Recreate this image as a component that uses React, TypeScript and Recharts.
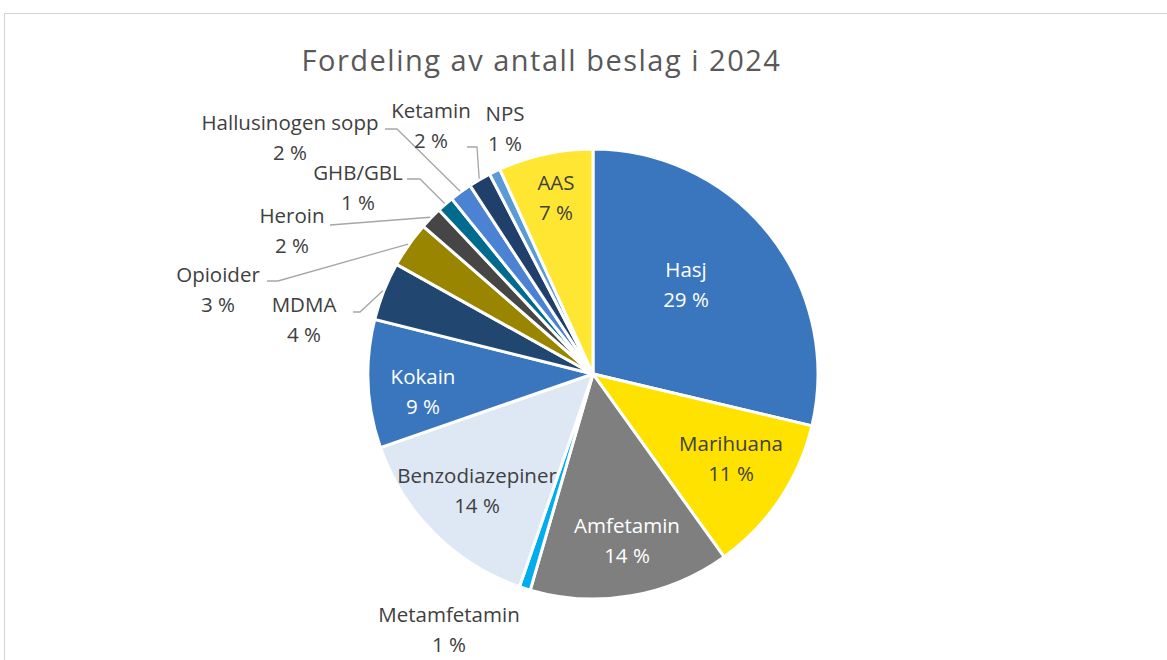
import React from 'react';
import { PieChart, Pie, Cell } from 'recharts';

const categories = [
  'Hasj', 'Marihuana', 'Amfetamin', 'Metamfetamin', 'Benzodiazepiner', 'Kokain', 'MDMA',
  'Opioider', 'Heroin', 'GHB/GBL', 'Hallusinogen sopp', 'Ketamin', 'NPS', 'AAS',
];
const shares = [28.7, 11.4, 14.4, 0.8, 14.4, 9.2, 4.2, 3.3, 1.6, 1.2, 1.6, 1.6, 0.8, 6.8];

const sliceColors = [
  '#3A76BD', '#FFE200', '#7F7F7F', '#00AEEF', '#DEE8F5', '#3A76BD', '#214670',
  '#9A8500', '#464646', '#006B8F', '#4C82D4', '#203F6B', '#5B9BD5', '#FFE633',
];
const labelColors = [
  '#FFFFFF', '#404040', '#FFFFFF', '#404040', '#404040', '#FFFFFF', '#404040',
  '#404040', '#404040', '#404040', '#404040', '#404040', '#404040', '#404040',
];
// label text centre relative to the pie centre (px)
const labelOffsets: [number, number][] = [
  [93, -89], [138, 85], [34, 167], [-144, 256], [-116, 117], [-170, 18], [-289, -54],
  [-375, -84], [-301, -143], [-235, -186], [-303, -236], [-162, -248], [-88, -245], [-37, -176],
];
// leader line: [startX, elbowX, y] relative to the pie centre, or null
const leaders: (null | [number, number, number])[] = [
  null, null, null, null, null, null, [-240, -233, -62],
  [-326, -315, -93], [-263, -263, -149], [-186, -173, -195], [-208, -196, -245], [-126, -116, -227], null, null,
];

const data = categories.map((name, i) => ({ name, value: shares[i] }));

const RAD = Math.PI / 180;
const FONT = "'Open Sans', sans-serif";

const renderLabel = (props: any) => {
  const { cx, cy, midAngle, outerRadius, percent, index, name } = props;
  const [dx, dy] = labelOffsets[index];
  const tx = cx + dx;
  const ty = cy + dy;
  const leader = leaders[index];
  let line = null;
  if (leader) {
    const ex = cx + (outerRadius + 1) * Math.cos(-midAngle * RAD);
    const ey = cy + (outerRadius + 1) * Math.sin(-midAngle * RAD);
    const pts = `${cx + leader[0]},${cy + leader[2]} ${cx + leader[1]},${cy + leader[2]} ${ex},${ey}`;
    line = <polyline points={pts} fill="none" stroke="#A6A6A6" strokeWidth={1.3} />;
  }
  return (
    <g key={`lbl-${index}`}>
      {line}
      <text x={tx} y={ty - 8} textAnchor="middle" fill={labelColors[index]} fontSize={20.5} fontFamily={FONT}>
        {name}
      </text>
      <text x={tx} y={ty + 22} textAnchor="middle" fill={labelColors[index]} fontSize={20.5} fontFamily={FONT}>
        {`${Math.round(percent * 100)} %`}
      </text>
    </g>
  );
};

export default function App() {
  return (
    <div style={{ position: 'fixed', left: 0, top: 0, width: 1167, height: 660, overflow: 'hidden', background: '#fff' }}>
      <div style={{ position: 'absolute', left: 4, top: 13, width: 1300, height: 800, border: '1px solid #D4D4D4', boxSizing: 'border-box' }} />
      <div
        style={{
          position: 'absolute', left: 0, top: 40, width: 1083, textAlign: 'center',
          fontFamily: FONT, fontSize: 29, letterSpacing: 1.5, color: '#595959', lineHeight: '40px',
        }}
      >
        Fordeling av antall beslag i 2024
      </div>
      <div style={{ position: 'absolute', left: 0, top: 0 }}>
        <PieChart width={1167} height={660} margin={{ top: 0, right: 0, bottom: 0, left: 0 }}>
          <Pie
            data={data}
            dataKey="value"
            nameKey="name"
            cx={593}
            cy={374}
            outerRadius={225}
            startAngle={90}
            endAngle={-270}
            stroke="#FFFFFF"
            strokeWidth={3}
            isAnimationActive={false}
            label={renderLabel}
            labelLine={false}
          >
            {data.map((d, i) => (
              <Cell key={d.name} fill={sliceColors[i]} />
            ))}
          </Pie>
        </PieChart>
      </div>
    </div>
  );
}
